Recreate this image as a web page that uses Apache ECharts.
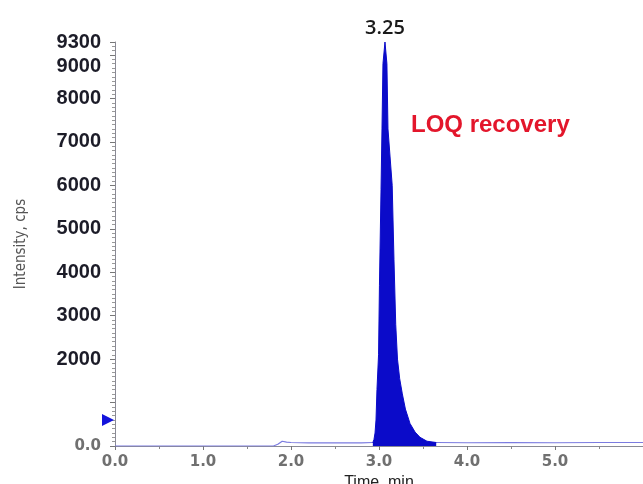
<!DOCTYPE html>
<html>
<head>
<meta charset="utf-8">
<script src="https://cdn.jsdelivr.net/npm/echarts@6/dist/echarts.min.js"></script>
<style>
    html, body { margin: 0; padding: 0; background: #fff; }
    #chart { width: 643px; height: 484px; }
</style>
</head>
<body>
<div id="chart"></div>
<script>
// baseline trace (time in min, intensity in cps)
var baseTime = [0, 1.80, 1.85, 1.90, 1.95, 2.00, 2.20, 2.50, 2.80, 2.93, 3.65, 4.00, 4.50, 5.00, 5.50, 6.00];
var baseCps = [0, 0, 40, 110, 90, 80, 70, 75, 70, 80, 80, 75, 80, 75, 80, 80];

// the peak itself
var peakTime = [2.930, 2.943, 2.955, 2.966, 2.977, 2.995, 3.005, 3.023, 3.034, 3.045, 3.068,
                3.090, 3.102, 3.150, 3.170, 3.190, 3.210, 3.235, 3.265, 3.300, 3.352, 3.410, 3.466, 3.545, 3.650];
var peakCps = [80, 150, 300, 600, 1300, 2100, 3700, 5900, 7300, 8800, 9300,
               8800, 7300, 6000, 4300, 2800, 2000, 1550, 1200, 850, 520, 320, 200, 110, 80];

var markerCps = [600];       // blue threshold marker on the y axis
var peakLabel = '3.25';
var noteText = 'LOQ recovery';

var myChart = echarts.init(document.getElementById('chart'));

function pairs(xs, ys) {
    return xs.map(function (x, i) { return [x, ys[i]]; });
}

var peakIdx = peakCps.indexOf(Math.max.apply(null, peakCps));

var option = {
    animation: false,
    backgroundColor: '#fff',
    grid: {
        left: 115,
        right: 0,
        top: 42,
        bottom: 38,
        outerBoundsMode: 'none'
    },
    graphic: [
        {
            type: 'text',
            left: 411,
            top: 113,
            style: {
                text: noteText,
                fill: '#e3162b',
                font: 'bold 24px "Liberation Sans", Arial, sans-serif'
            }
        }
    ],
    xAxis: {
        type: 'value',
        min: 0,
        max: 6,
        interval: 1,
        name: 'Time, min',
        nameLocation: 'middle',
        nameGap: 26,
        nameTextStyle: {
            color: '#222',
            fontSize: 16,
            fontFamily: 'Liberation Sans'
        },
        axisLine: { lineStyle: { color: '#8a8a95', width: 1 } },
        axisTick: { length: 4, lineStyle: { color: '#777' } },
        minorTick: { show: true, splitNumber: 2, length: 3, lineStyle: { color: '#888' } },
        splitLine: { show: false },
        axisLabel: {
            showMaxLabel: false,
            margin: 9,
            color: '#707070',
            fontSize: 15,
            fontWeight: 'bold',
            fontFamily: 'DejaVu Sans',
            formatter: function (v) { return v.toFixed(1); }
        }
    },
    yAxis: {
        type: 'value',
        min: 0,
        max: 9300,
        interval: 1000,
        name: 'Intensity, cps',
        nameLocation: 'middle',
        nameGap: 86,
        nameRotate: 90,
        nameTextStyle: {
            color: '#555',
            fontSize: 15,
            fontFamily: '"Liberation Sans Narrow", "DejaVu Sans Condensed", sans-serif'
        },
        axisLine: { show: true, lineStyle: { color: '#8a8a95', width: 1 } },
        axisTick: { show: true, length: 5, lineStyle: { color: '#777' } },
        minorTick: { show: true, splitNumber: 10, length: 3, lineStyle: { color: '#999' } },
        splitLine: { show: false },
        axisLabel: {
            showMinLabel: true,
            showMaxLabel: true,
            margin: 14,
            color: '#1c1c28',
            fontSize: 20,
            fontWeight: 'bold',
            fontFamily: 'Liberation Sans',
            formatter: function (v) {
                if (v === 0) return '{z|0.0}';
                if (v === 1000) return '';
                if (v === 9000) return '{lo|9000}';
                return String(v);
            },
            rich: {
                z: { color: '#707070', fontSize: 15, fontWeight: 'bold', fontFamily: 'DejaVu Sans' },
                lo: { color: '#1c1c28', fontSize: 20, fontWeight: 'bold', fontFamily: 'Liberation Sans', padding: [22, 0, 0, 0] }
            }
        }
    },
    series: [
        {
            name: 'baseline',
            type: 'line',
            data: pairs(baseTime, baseCps),
            showSymbol: false,
            z: 2,
            lineStyle: { color: '#7b7be0', width: 1.2 }
        },
        {
            name: 'peak',
            type: 'line',
            data: pairs(peakTime, peakCps),
            showSymbol: false,
            z: 3,
            lineStyle: { color: '#0b0bc9', width: 1 },
            areaStyle: { color: '#0b0bc9', opacity: 1 },
            markPoint: {
                symbol: 'circle',
                symbolSize: 0,
                data: [{ coord: [peakTime[peakIdx], peakCps[peakIdx]] }],
                label: {
                    show: true,
                    position: 'top',
                    distance: 4,
                    formatter: peakLabel,
                    color: '#1a1a1a',
                    fontSize: 20,
                    fontWeight: 600,
                    fontFamily: 'Open Sans'
                }
            }
        },
        {
            name: 'marker',
            type: 'scatter',
            data: markerCps.map(function (v) { return [0, v]; }),
            symbol: 'triangle',
            symbolRotate: -90,
            symbolSize: 12,
            symbolOffset: [-7, 0],
            clip: false,
            z: 4,
            itemStyle: { color: '#1414dc', opacity: 1 }
        }
    ]
};

myChart.setOption(option);
</script>
</body>
</html>
